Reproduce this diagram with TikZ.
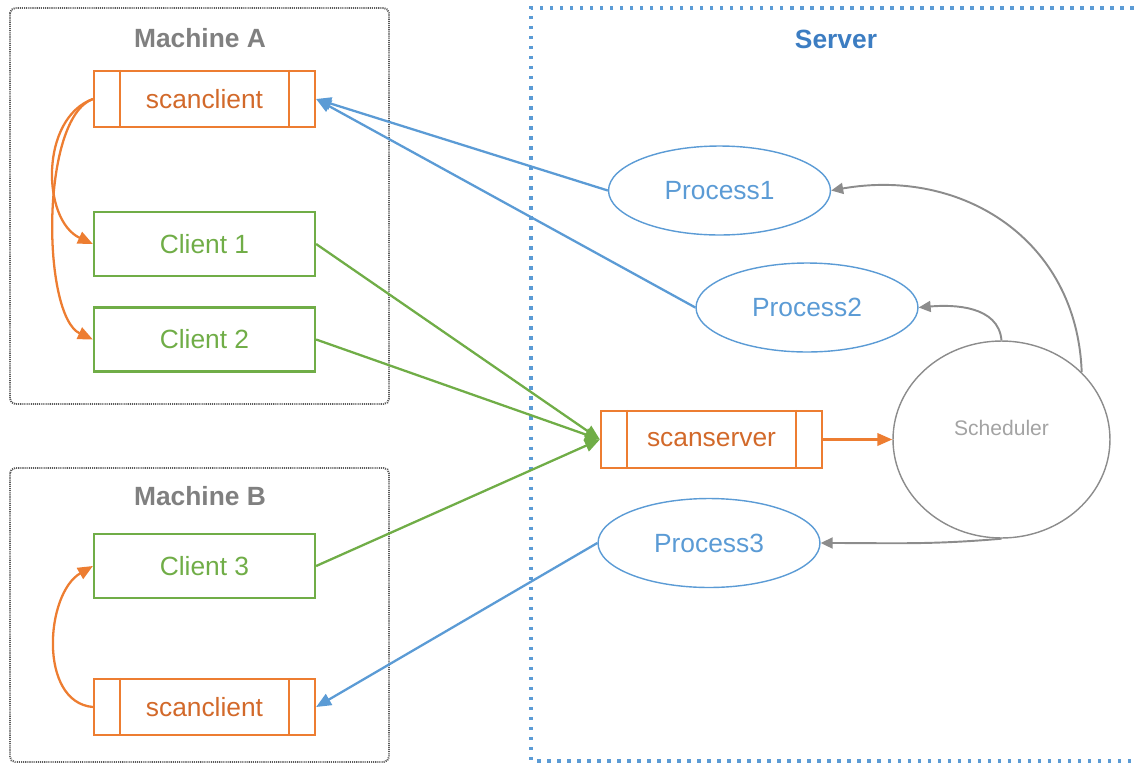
\documentclass[tikz,border=0pt]{standalone}
\usepackage{fontspec}
\setmainfont{Liberation Sans}
\usepackage{tikz}
\usetikzlibrary{arrows.meta}
\usetikzlibrary{shapes.geometric}
\usetikzlibrary{positioning}

\definecolor{scorange}{HTML}{ED7D31}
\definecolor{sctext}{HTML}{D2692A}
\definecolor{clgreen}{HTML}{70AD47}
\definecolor{prblue}{HTML}{5B9BD5}
\definecolor{srvblue}{HTML}{3C7DC2}
\definecolor{mgray}{HTML}{808080}
\definecolor{fgray}{HTML}{5A5A5A}
\definecolor{schgray}{HTML}{8C8C8C}
\definecolor{schtext}{HTML}{A3A3A3}

\begin{document}
\begin{tikzpicture}[x=0.02cm, y=-0.02cm,
    every node/.style={font=\fontsize{15}{18}\selectfont},
    machine/.style={draw=fgray, line width=1.1pt, dash pattern=on 0.6pt off 0.6pt, rounded corners=3pt},
    server/.style={draw=prblue, line width=2pt, dash pattern=on 2pt off 3.7pt},
    title/.style={font=\fontsize{15}{18}\selectfont\bfseries, text=mgray},
    prog/.style={draw=scorange, line width=1.3pt, text=sctext, minimum width=4.42cm, minimum height=1.12cm, inner sep=0pt},
    client/.style={draw=clgreen, line width=1.3pt, text=clgreen, minimum width=4.42cm, minimum height=1.28cm, inner sep=0pt},
    proc/.style={ellipse, draw=prblue, line width=0.8pt, text=prblue, minimum width=4.44cm, minimum height=1.78cm, inner sep=0pt},
    tip/.style={-{Triangle[length=0.3cm, width=0.25cm]}},
    oarrow/.style={tip, draw=scorange, line width=1.3pt},
    barrow/.style={tip, draw=prblue, line width=1.3pt},
    garrow/.style={tip, draw=clgreen, line width=1.3pt},
    karrow/.style={-{Triangle[length=0.24cm, width=0.22cm]}, draw=schgray, line width=1.1pt}]

        % Page frame
        \useasboundingbox (0,0) rectangle (1134,765);

        % Machine and server frames
        \draw[machine] (10,8) rectangle (389,404);
        \draw[machine] (10,468) rectangle (389,762);
        \draw[server] (1134,8) -- (531,8) -- (531,761) -- (1134,761);

        \node[title] (mA) at (200,38) {Machine A};
        \node[title] (mB) at (200,496) {Machine B};
        \node[title, text=srvblue] (srvT) at (836,39) {Server};

        % Programs on the machines
        \node[prog] (scA) at (204.5,99) {scanclient};
        \node[client] (c1) at (204.5,244) {Client 1};
        \node[client] (c2) at (204.5,339.5) {Client 2};
        \node[client] (c3) at (204.5,566) {Client 3};
        \node[prog] (scB) at (204.5,707) {scanclient};

        % Server side
        \node[prog, minimum height=1.14cm] (srv) at (711.5,439.5) {scanserver};
        \node[proc] (p1) at (719.5,190.5) {Process1};
        \node[proc] (p2) at (807,307.5) {Process2};
        \node[proc] (p3) at (709,543) {Process3};
        \node[ellipse, draw=schgray, line width=0.8pt, minimum width=4.34cm, minimum height=3.94cm,
              label={[text=schtext, font=\fontsize{12}{14}\selectfont, yshift=0.23cm]center:Scheduler}] (sch) at (1001.5,439.5) {};

        % Side bars of the program boxes
        \foreach \n in {scA, scB, srv}
        {
          \draw[scorange, line width=1.3pt] ([xshift=0.54cm]\n.north west) -- ([xshift=0.54cm]\n.south west);
          \draw[scorange, line width=1.3pt] ([xshift=-0.54cm]\n.north east) -- ([xshift=-0.54cm]\n.south east);
        }

        % scanclient starts the clients
        \draw[oarrow] (scA.west) to[out=200, in=155] (c1.west);
        \draw[oarrow] (scA.west) to[out=200, in=155, looseness=0.6] (c2.west);
        \draw[oarrow] (scB.west) to[out=175, in=210] (c3.west);

        % Clients talk to the scanserver
        \foreach \c in {c1, c2, c3}
          \draw[garrow] (\c.east) -- (srv.west);

        \draw[oarrow] (srv.east) -- (sch.west);

        % Scheduler hands out the processes
        \draw[karrow] (sch.40) to[out=92, in=10, looseness=1.1] (p1.east);
        \draw[karrow] (sch.north) to[out=95, in=5] (p2.east);
        \draw[karrow] (sch.south) to[out=185, in=0] (p3.east);

        % Processes answer the scanclients
        \draw[barrow] (p1.west) -- (scA.east);
        \draw[barrow] (p2.west) -- (scA.east);
        \draw[barrow] (p3.west) -- (scB.east);
      \end{tikzpicture}
\end{document}
